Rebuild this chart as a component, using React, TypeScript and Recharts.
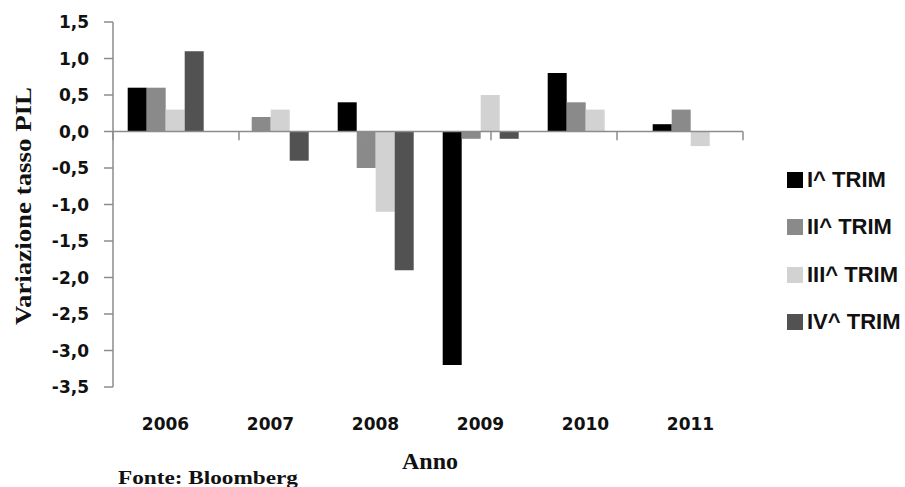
import { BarChart, Bar, XAxis, YAxis, ReferenceLine, Legend } from "recharts";

const anni = ["2006", "2007", "2008", "2009", "2010", "2011"];
const trim1 = [0.6, 0, 0.4, -3.2, 0.8, 0.1];
const trim2 = [0.6, 0.2, -0.5, -0.1, 0.4, 0.3];
const trim3 = [0.3, 0.3, -1.1, 0.5, 0.3, -0.2];
const trim4 = [1.1, -0.4, -1.9, -0.1, 0, 0];
const nomiSerie = ["I^ TRIM", "II^ TRIM", "III^ TRIM", "IV^ TRIM"];
const colori = ["#000000", "#8a8a8a", "#d2d2d2", "#525252"];
const yTicks = [1.5, 1, 0.5, 0, -0.5, -1, -1.5, -2, -2.5, -3, -3.5];
const confini = [0, 1, 2, 3, 4, 5, 6];

const dati = anni.map((anno, i) => ({
  anno,
  t1: trim1[i],
  t2: trim2[i],
  t3: trim3[i],
  t4: trim4[i],
}));
const chiavi = ["t1", "t2", "t3", "t4"];

const fmt = (v: number) => v.toFixed(1).replace(".", ",");

const tickFont = {
  fontFamily: "DejaVu Sans",
  fontSize: 17,
  fontWeight: 600,
  fill: "#111",
};

const Legenda = () => (
  <div style={{ fontFamily: "Liberation Sans", fontSize: 22, fontWeight: 600 }}>
    {nomiSerie.map((n, i) => (
      <div
        key={n}
        style={{ display: "flex", alignItems: "center", height: 47.5, color: "#111" }}
      >
        <span
          style={{
            width: 16,
            height: 16,
            background: colori[i],
            marginRight: 4,
            display: "inline-block",
          }}
        />
        {n}
      </div>
    ))}
  </div>
);

export default function App() {
  return (
    <div style={{ position: "absolute", left: 0, top: 0, width: 905, height: 487, background: "#fff" }}>
      <BarChart
        width={905}
        height={487}
        data={dati}
        margin={{ top: 22, right: 44, bottom: 60, left: 0 }}
        barGap={0}
        barCategoryGap="14%"
      >
        <XAxis
          dataKey="anno"
          axisLine={false}
          tickLine={false}
          tickSize={0}
          tickMargin={31}
          height={40}
          tick={tickFont}
          interval={0}
        />
        <XAxis xAxisId="b" type="number" domain={[0, 6]} hide />
        <YAxis
          width={113}
          domain={[-3.5, 1.5]}
          ticks={yTicks}
          interval={0}
          tickFormatter={fmt}
          axisLine={{ stroke: "#8c8c8c", strokeWidth: 1.5 }}
          tickLine={{ stroke: "#8c8c8c", strokeWidth: 1.5 }}
          tickSize={9}
          tickMargin={15}
          tick={tickFont}
        />
        {chiavi.map((k, i) => (
          <Bar key={k} dataKey={k} name={nomiSerie[i]} fill={colori[i]} isAnimationActive={false} />
        ))}
        <ReferenceLine y={0} stroke="#8c8c8c" strokeWidth={1.5} />
        {confini.map((c) => (
          <ReferenceLine
            key={c}
            xAxisId="b"
            segment={[
              { x: c, y: 0 },
              { x: c, y: -0.12 },
            ]}
            stroke="#8c8c8c"
            strokeWidth={1.5}
          />
        ))}
        <Legend
          layout="vertical"
          verticalAlign="top"
          align="right"
          content={() => <Legenda />}
          wrapperStyle={{ left: 787, top: 156, width: 118 }}
        />
      </BarChart>
      <svg
        width={905}
        height={487}
        style={{ position: "absolute", left: 0, top: 0, pointerEvents: "none" }}
      >
        <text
          transform="translate(31,206) rotate(-90)"
          textAnchor="middle"
          fontFamily="Liberation Serif"
          fontWeight="bold"
          fontSize={24}
          textLength={238}
          lengthAdjust="spacingAndGlyphs"
          fill="#111"
        >
          Variazione tasso PIL
        </text>
        <text
          x={430}
          y={469}
          textAnchor="middle"
          fontFamily="Liberation Serif"
          fontWeight="bold"
          fontSize={24}
          fill="#111"
        >
          Anno
        </text>
        <text
          x={118}
          y={484}
          fontFamily="Liberation Serif"
          fontWeight="bold"
          fontSize={19}
          textLength={180}
          lengthAdjust="spacingAndGlyphs"
          fill="#111"
        >
          Fonte: Bloomberg
        </text>
      </svg>
    </div>
  );
}
